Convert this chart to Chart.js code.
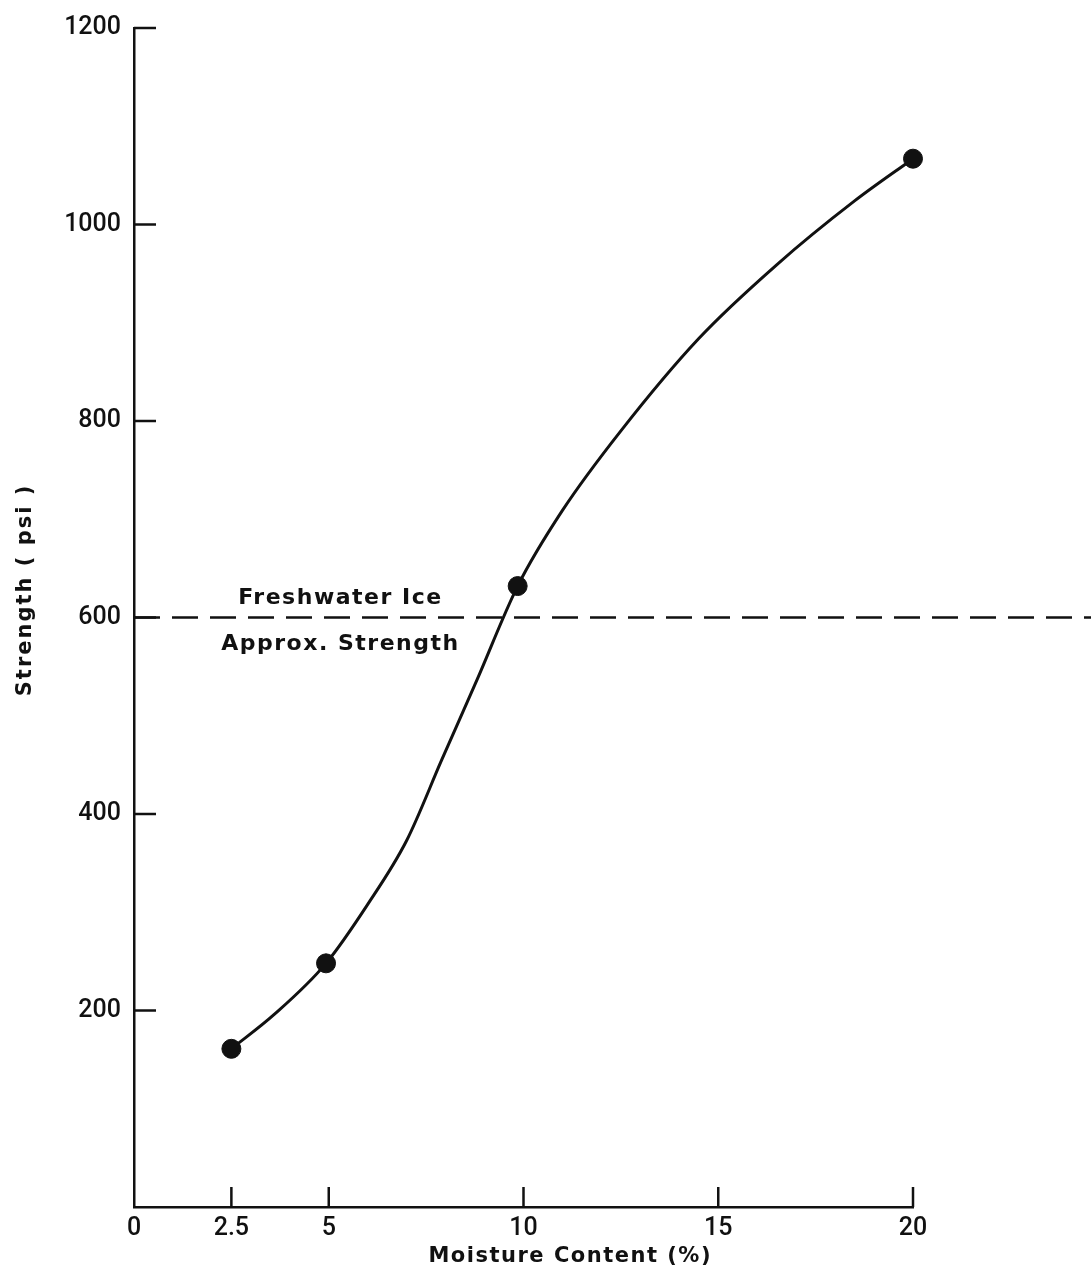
<!DOCTYPE html>
<html>
<head>
<meta charset="utf-8">
<script src="https://cdn.jsdelivr.net/npm/chart.js@4.4.1/dist/chart.umd.min.js"></script>
<style>
  html, body { margin: 0; padding: 0; background: #fff; }
  #wrap { width: 1091px; height: 1272px; }
</style>
</head>
<body>
<div id="wrap"><canvas id="strengthChart"></canvas></div>
<script>
// measured points
const measuredX = [2.5, 4.93, 9.85, 20];
const measuredY = [161, 248, 632, 1067];

// points
const curveX = [2.5, 3.6, 4.93, 6.0, 7.0, 7.9, 8.8, 9.85, 11.0, 12.5, 14.5, 16.5, 18.5, 20];
const curveY = [161, 196, 248, 308, 373, 455, 536, 632, 709, 790, 884, 959, 1024, 1067];

// freshwater ice approx strength
const iceStrength = 600;

const xTickValues = [0, 2.5, 5, 10, 15, 20];
const yTickValues = [0, 200, 400, 600, 800, 1000, 1200];
const xTickMarks = [2.5, 5, 10, 15, 20];
const yTickMarks = [200, 400, 600, 800, 1000, 1200];

const textFont = "'DejaVu Sans', sans-serif";
const tickFont = "Roboto, 'Liberation Sans', sans-serif";

function toPoints(xs, ys) {
  return xs.map((v, i) => ({ x: v, y: ys[i] }));
}

// ticks drawn inward, the dashed reference line, and the text
const extrasPlugin = {
  id: "extras",
  afterDatasetsDraw(chart) {
    const { ctx, chartArea, scales } = chart;
    const xs = scales.x, ys = scales.y;
    ctx.save();
    ctx.strokeStyle = "#111";
    ctx.lineWidth = 2.5;
    ctx.setLineDash([]);
    yTickMarks.forEach((v) => {
      const py = ys.getPixelForValue(v);
      ctx.beginPath();
      ctx.moveTo(chartArea.left, py);
      ctx.lineTo(chartArea.left + 22, py);
      ctx.stroke();
    });
    xTickMarks.forEach((v) => {
      const px = xs.getPixelForValue(v);
      ctx.beginPath();
      ctx.moveTo(px, chartArea.bottom);
      ctx.lineTo(px, chartArea.bottom - 20);
      ctx.stroke();
    });

    // dashed line runs past the end of the axis to the edge
    const yLine = ys.getPixelForValue(iceStrength);
    ctx.setLineDash([26, 12]);
    ctx.beginPath();
    ctx.moveTo(chartArea.left, yLine);
    ctx.lineTo(chart.width, yLine);
    ctx.stroke();

    ctx.fillStyle = "#111";
    ctx.font = "bold 22px " + textFont;
    ctx.textAlign = "center";
    ctx.textBaseline = "middle";
    ctx.letterSpacing = "1.5px";
    const xText = xs.getPixelForValue(5.3);
    ctx.fillText("Freshwater Ice", xText, yLine - 19);
    ctx.fillText("Approx. Strength", xText, yLine + 27);

    // axis titles
    ctx.font = "bold 21px " + textFont;
    ctx.fillText("Moisture Content (%)", xs.getPixelForValue(11.2), chart.height - 15);
    ctx.translate(26, ys.getPixelForValue(628));
    ctx.rotate(-Math.PI / 2);
    ctx.letterSpacing = "2px";
    ctx.fillText("Strength ( psi )", 0, 0);
    ctx.restore();
  }
};

const ctx = document.getElementById("strengthChart").getContext("2d");
new Chart(ctx, {
  type: "scatter",
  data: {
    datasets: [
      {
        label: "curve",
        data: toPoints(curveX, curveY),
        showLine: true,
        borderColor: "#111",
        borderWidth: 3,
        pointRadius: 0,
        cubicInterpolationMode: "monotone",
        clip: false,
        order: 2
      },
      {
        label: "measured",
        data: toPoints(measuredX, measuredY),
        showLine: false,
        pointRadius: 9.5,
        pointBackgroundColor: "#111",
        pointBorderColor: "#111",
        clip: false,
        order: 1
      }
    ]
  },
  options: {
    responsive: true,
    maintainAspectRatio: false,
    animation: false,
    layout: { padding: { left: 0, right: 178, top: 25, bottom: 0 } },
    plugins: {
      legend: { display: false },
      tooltip: { enabled: false }
    },
    scales: {
      x: {
        type: "linear",
        min: 0,
        max: 20,
        afterBuildTicks: (scale) => {
          scale.ticks = xTickValues.map((v) => ({ value: v }));
        },
        afterFit: (scale) => { scale.height = 65; },
        grid: { display: false, drawTicks: false },
        border: { display: true, color: "#111", width: 2.5 },
        ticks: {
          color: "#111",
          padding: 7,
          font: { family: tickFont, size: 25, weight: "500" },
          callback: (v) => String(v)
        }
      },
      y: {
        type: "linear",
        min: 0,
        max: 1200,
        afterBuildTicks: (scale) => {
          scale.ticks = yTickValues.map((v) => ({ value: v }));
        },
        afterFit: (scale) => { scale.width = 134; },
        grid: { display: false, drawTicks: false },
        border: { display: true, color: "#111", width: 2.5 },
        ticks: {
          color: "#111",
          padding: 13,
          font: { family: tickFont, size: 25, weight: "500" },
          callback: (v) => (v === 0 ? "" : String(v))
        }
      }
    }
  },
  plugins: [extrasPlugin]
});
</script>
</body>
</html>
